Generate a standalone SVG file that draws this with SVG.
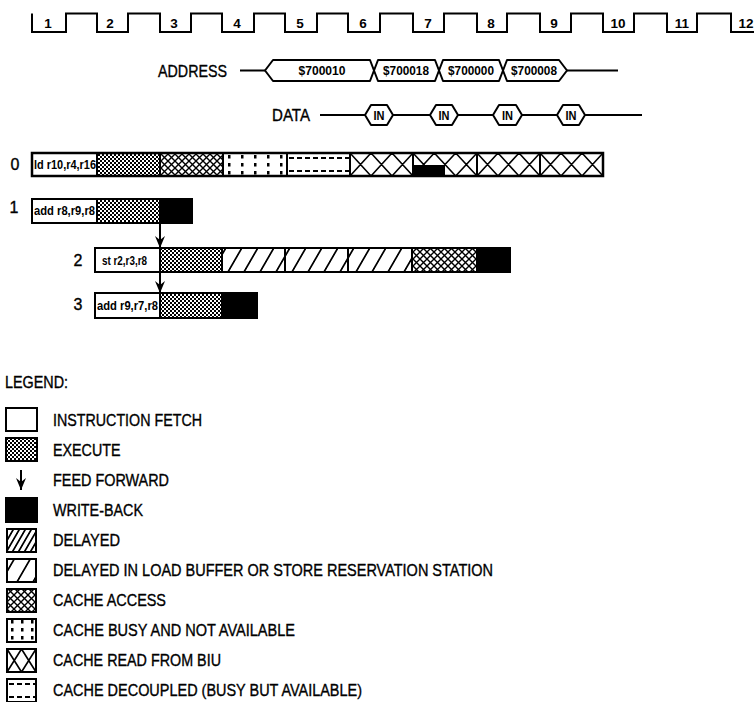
<svg xmlns="http://www.w3.org/2000/svg" width="754" height="702" viewBox="0 0 754 702">
<defs>
<style>
text{font-family:"Liberation Sans",Arial,sans-serif;fill:#000}
.t{font-size:16.5px;stroke:#000;stroke-width:0.35}
.clk{font-size:13.5px;font-weight:bold;text-anchor:middle}
.num{font-size:16px;text-anchor:middle;stroke:#000;stroke-width:0.35}
.ins{font-size:12.5px;font-weight:bold}
.bl{font-size:13px;font-weight:bold;text-anchor:middle}
.seg{stroke:#000;stroke-width:2}
.wire{fill:none;stroke:#000;stroke-width:2}
.hex{fill:#fff;stroke:#000;stroke-width:2;stroke-linejoin:round}
.ff{stroke:#000;stroke-width:2;marker-end:url(#ah)}
.biu{fill:none;stroke:#000;stroke-width:1.6}
.dash{fill:none;stroke:#000;stroke-width:2;stroke-dasharray:5 3}
</style>
<pattern id="pExec" width="4" height="4" patternUnits="userSpaceOnUse"><rect width="4" height="4" fill="#fff"/><rect width="2" height="2" fill="#000"/><rect x="2" y="2" width="2" height="2" fill="#000"/></pattern>
<pattern id="pAccess" width="7" height="7" patternUnits="userSpaceOnUse"><rect width="7" height="7" fill="#fff"/><path d="M-1,-1 L8,8 M-1,8 L8,-1" stroke="#000" stroke-width="1.4"/></pattern>
<pattern id="pBusy" x="223" y="153" width="13" height="8" patternUnits="userSpaceOnUse"><rect width="13" height="8" fill="#fff"/><rect x="5" y="2" width="2.5" height="3.5" fill="#000"/></pattern>
<pattern id="pBusyL" x="6" y="618" width="10" height="8" patternUnits="userSpaceOnUse"><rect width="10" height="8" fill="#fff"/><rect x="5" y="2" width="2.5" height="3.5" fill="#000"/></pattern>
<pattern id="pDelayed" width="6" height="30" patternUnits="userSpaceOnUse" patternTransform="skewX(-30)"><rect width="6" height="30" fill="#fff"/><rect width="2" height="30" fill="#000"/></pattern>
<pattern id="pDelayedLB" width="16" height="30" patternUnits="userSpaceOnUse" patternTransform="skewX(-30)"><rect width="16" height="30" fill="#fff"/><rect width="2" height="30" fill="#000"/></pattern>
<marker id="ah" markerUnits="userSpaceOnUse" viewBox="0 0 12 10" markerWidth="12" markerHeight="10" refX="12" refY="5" orient="auto"><path d="M0,0 L12,5 L0,10 L4,5 z" fill="#000"/></marker>
</defs>
<rect width="754" height="702" fill="#fff"/>

<g id="clock">
<path class="wire" stroke-width="2.2" d="M32,13.5 V32 H66 V13.5 H97 V32 H128 V13.5 H160 V32 H191 V13.5 H222 V32 H254 V13.5 H285 V32 H317 V13.5 H348 V32 H380 V13.5 H413 V32 H444 V13.5 H477 V32 H507 V13.5 H540 V32 H571 V13.5 H603 V32 H634 V13.5 H667 V32 H697 V13.5 H731 V32 H754"/>
<text class="clk" x="48" y="28">1</text>
<text class="clk" x="110" y="28">2</text>
<text class="clk" x="174" y="28">3</text>
<text class="clk" x="237" y="28">4</text>
<text class="clk" x="300" y="28">5</text>
<text class="clk" x="363" y="28">6</text>
<text class="clk" x="428" y="28">7</text>
<text class="clk" x="491" y="28">8</text>
<text class="clk" x="554" y="28">9</text>
<text class="clk" x="618" y="28">10</text>
<text class="clk" x="682" y="28">11</text>
<text class="clk" x="746" y="28">12</text>
</g>

<g id="address">
<text class="t" x="158" y="76.5" textLength="69" lengthAdjust="spacingAndGlyphs">ADDRESS</text>
<path class="wire" d="M240,70.5 H265 M567,70.5 H618"/>
<polygon class="hex" points="265,70.5 273,60 370,60 374,70.5 370,81 273,81"/>
<polygon class="hex" points="374,70.5 378,60 435,60 439,70.5 435,81 378,81"/>
<polygon class="hex" points="439,70.5 443,60 499,60 503,70.5 499,81 443,81"/>
<polygon class="hex" points="503,70.5 507,60 559,60 567,70.5 559,81 507,81"/>
<text class="bl" x="322" y="75" textLength="47" lengthAdjust="spacingAndGlyphs">$700010</text>
<text class="bl" x="406" y="75" textLength="46" lengthAdjust="spacingAndGlyphs">$700018</text>
<text class="bl" x="471" y="75" textLength="46" lengthAdjust="spacingAndGlyphs">$700000</text>
<text class="bl" x="534" y="75" textLength="46" lengthAdjust="spacingAndGlyphs">$700008</text>
</g>

<g id="data">
<text class="t" x="272" y="121" textLength="38" lengthAdjust="spacingAndGlyphs">DATA</text>
<path class="wire" d="M320,115 H365 M393,115 H430 M458,115 H493 M522,115 H557 M585,115 H642"/>
<polygon class="hex" points="365,115 371,105 387,105 393,115 387,125 371,125"/>
<polygon class="hex" points="430,115 436,105 452,105 458,115 452,125 436,125"/>
<polygon class="hex" points="493,115 499,105 516,105 522,115 516,125 499,125"/>
<polygon class="hex" points="557,115 563,105 579,105 585,115 579,125 563,125"/>
<text class="bl" x="379" y="119.5" textLength="11" lengthAdjust="spacingAndGlyphs">IN</text>
<text class="bl" x="444" y="119.5" textLength="11" lengthAdjust="spacingAndGlyphs">IN</text>
<text class="bl" x="507.5" y="119.5" textLength="11" lengthAdjust="spacingAndGlyphs">IN</text>
<text class="bl" x="571" y="119.5" textLength="11" lengthAdjust="spacingAndGlyphs">IN</text>
</g>

<g id="row0">
<text class="num" x="15" y="170">0</text>
<rect class="seg" x="32" y="153" width="65" height="23" fill="#fff"/>
<rect class="seg" x="97" y="153" width="63" height="23" fill="url(#pExec)"/>
<rect class="seg" x="160" y="153" width="63" height="23" fill="url(#pAccess)"/>
<rect class="seg" x="223" y="153" width="64" height="23" fill="url(#pBusy)"/>
<rect class="seg" x="287" y="153" width="63" height="23" fill="#fff"/>
<path class="dash" d="M289,158 H349 M289,171 H349"/>
<rect class="seg" x="350" y="153" width="63" height="23" fill="#fff"/>
<rect class="seg" x="413" y="153" width="64" height="23" fill="#fff"/>
<rect class="seg" x="477" y="153" width="63" height="23" fill="#fff"/>
<rect class="seg" x="540" y="153" width="63" height="23" fill="#fff"/>
<path class="biu" d="M350,153L371,176M350,176L371,153M371,153L392,176M371,176L392,153M392,153L413,176M392,176L413,153
M413,153L434.3,176M413,176L434.3,153M434.3,153L455.7,176M434.3,176L455.7,153M455.7,153L477,176M455.7,176L477,153
M477,153L498,176M477,176L498,153M498,153L519,176M498,176L519,153M519,153L540,176M519,176L540,153
M540,153L561,176M540,176L561,153M561,153L582,176M561,176L582,153M582,153L603,176M582,176L603,153"/>
<rect x="413" y="165" width="32" height="11" fill="#000"/>
<rect x="32" y="153" width="571" height="23" fill="none" stroke="#000" stroke-width="2.5"/>
<text class="ins" x="34" y="169" textLength="62" lengthAdjust="spacingAndGlyphs">ld r10,r4,r16</text>
</g>

<g id="row1">
<text class="num" x="14" y="213">1</text>
<rect class="seg" x="32" y="199" width="65" height="24" fill="#fff"/>
<rect class="seg" x="97" y="199" width="63" height="24" fill="url(#pExec)"/>
<rect class="seg" x="160" y="199" width="32" height="24" fill="#000"/>
<text class="ins" x="34" y="215" textLength="61" lengthAdjust="spacingAndGlyphs">add r8,r9,r8</text>
</g>

<g id="row2">
<text class="num" x="78" y="266">2</text>
<rect class="seg" x="95" y="248" width="65" height="24" fill="#fff"/>
<rect class="seg" x="160" y="248" width="62" height="24" fill="url(#pExec)"/>
<rect class="seg" x="222" y="248" width="63" height="24" fill="url(#pDelayedLB)"/>
<rect class="seg" x="285" y="248" width="63" height="24" fill="url(#pDelayedLB)"/>
<rect class="seg" x="348" y="248" width="64" height="24" fill="url(#pDelayedLB)"/>
<rect class="seg" x="412" y="248" width="65" height="24" fill="url(#pAccess)"/>
<rect class="seg" x="477" y="248" width="33" height="24" fill="#000"/>
<text class="ins" x="102" y="265" textLength="45" lengthAdjust="spacingAndGlyphs">st r2,r3,r8</text>
</g>

<g id="row3">
<text class="num" x="78" y="310">3</text>
<rect class="seg" x="95" y="293" width="65" height="25" fill="#fff"/>
<rect class="seg" x="160" y="293" width="62" height="25" fill="url(#pExec)"/>
<rect class="seg" x="222" y="293" width="35" height="25" fill="#000"/>
<text class="ins" x="97" y="310" textLength="61" lengthAdjust="spacingAndGlyphs">add r9,r7,r8</text>
</g>

<g id="connectors">
<line class="ff" x1="160" y1="223" x2="160" y2="248"/>
<line class="ff" x1="160" y1="272" x2="160" y2="293"/>
</g>

<g id="legend">
<text class="t" x="5" y="388" textLength="63" lengthAdjust="spacingAndGlyphs">LEGEND:</text>
<g id="lg-fetch"><rect class="seg" x="6" y="408" width="31" height="23" fill="#fff"/><text class="t" x="53" y="426" textLength="149" lengthAdjust="spacingAndGlyphs">INSTRUCTION FETCH</text></g>
<g id="lg-exec"><rect class="seg" x="6" y="438" width="31" height="23" fill="url(#pExec)"/><text class="t" x="53" y="456" textLength="67.5" lengthAdjust="spacingAndGlyphs">EXECUTE</text></g>
<g id="lg-ff"><line class="ff" x1="21" y1="470" x2="21" y2="490"/><text class="t" x="53" y="486" textLength="116" lengthAdjust="spacingAndGlyphs">FEED FORWARD</text></g>
<g id="lg-wb"><rect class="seg" x="6" y="498" width="31" height="24" fill="#000"/><text class="t" x="53" y="516" textLength="90" lengthAdjust="spacingAndGlyphs">WRITE-BACK</text></g>
<g id="lg-del"><rect class="seg" x="7" y="529" width="29" height="23" fill="url(#pDelayed)"/><text class="t" x="53" y="546" textLength="67" lengthAdjust="spacingAndGlyphs">DELAYED</text></g>
<g id="lg-dellb"><rect class="seg" x="7" y="559" width="29" height="23" fill="url(#pDelayedLB)"/><text class="t" x="53" y="576" textLength="440" lengthAdjust="spacingAndGlyphs">DELAYED IN LOAD BUFFER OR STORE RESERVATION STATION</text></g>
<g id="lg-acc"><rect class="seg" x="7" y="589" width="29" height="23" fill="url(#pAccess)"/><text class="t" x="53" y="606" textLength="113" lengthAdjust="spacingAndGlyphs">CACHE ACCESS</text></g>
<g id="lg-busy"><rect class="seg" x="7" y="619" width="29" height="23" fill="url(#pBusyL)" stroke-width="2.6"/><text class="t" x="53" y="636" textLength="242" lengthAdjust="spacingAndGlyphs">CACHE BUSY AND NOT AVAILABLE</text></g>
<g id="lg-biu"><rect class="seg" x="7" y="649" width="29" height="23" fill="#fff"/><path class="biu" d="M7,649L21.5,672M7,672L21.5,649M21.5,649L36,672M21.5,672L36,649"/><text class="t" x="53" y="666" textLength="168" lengthAdjust="spacingAndGlyphs">CACHE READ FROM BIU</text></g>
<g id="lg-dec"><rect class="seg" x="7" y="679" width="29" height="23" fill="#fff"/><path class="dash" d="M9,684 H35 M9,697 H35"/><text class="t" x="53" y="696" textLength="309" lengthAdjust="spacingAndGlyphs">CACHE DECOUPLED (BUSY BUT AVAILABLE)</text></g>
</g>
</svg>
